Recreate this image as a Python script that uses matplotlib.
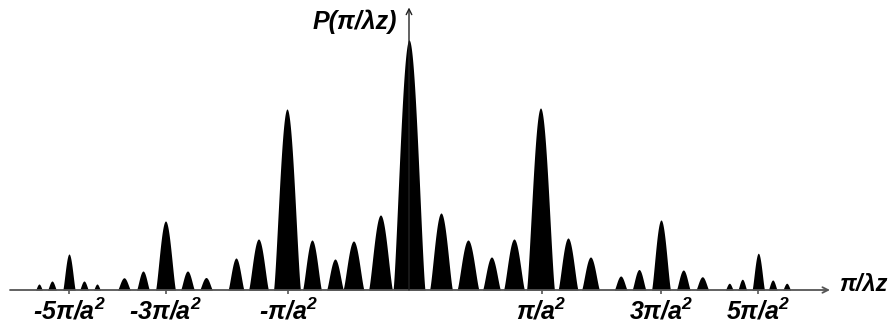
import numpy as np
import matplotlib
matplotlib.use("Agg")
import matplotlib.pyplot as plt

plt.rcParams["font.family"] = ["Liberation Sans", "DejaVu Sans"]
plt.rcParams["mathtext.fontset"] = "custom"
plt.rcParams["mathtext.rm"] = "Liberation Sans:bold:italic"
plt.rcParams["mathtext.it"] = "Liberation Sans:bold:italic"

# Spatial-frequency position of each diffraction peak (axis origin at 0)
peak_pos = [-370, -357, -340, -325, -312, -285, -266, -243.5, -221.5, -203,
            -173, -150.5, -122, -97, -74, -55.5, -28.5, 0, 32, 59,
            82.5, 105, 131.5, 159, 181.5, 211.7, 230, 252, 274.3, 293.3,
            320.3, 333.3, 349.3, 363.7, 377.7]
# Relative intensity (central order = 1)
peak_int = [0.024, 0.036, 0.144, 0.036, 0.024, 0.049, 0.076, 0.276, 0.076, 0.050,
            0.128, 0.204, 0.724, 0.200, 0.124, 0.196, 0.300, 1.000, 0.308, 0.200,
            0.132, 0.204, 0.728, 0.208, 0.132, 0.056, 0.082, 0.280, 0.080, 0.053,
            0.027, 0.043, 0.147, 0.040, 0.027]
# Base width of each peak
peak_width = [7, 9, 12.5, 9, 7, 13, 13, 20, 14, 13,
              16, 20, 27, 19, 17, 21, 24, 32, 23, 22,
              18, 21, 28, 20, 18, 13, 14, 19, 14, 13,
              8, 9, 12.5, 9, 8]

tick_pos = [-340, -243.5, -121, 132.5, 252, 349.3]
tick_labels = ["-5\u03c0/a$^2$", "-3\u03c0/a$^2$", "-\u03c0/a$^2$",
               "\u03c0/a$^2$", "3\u03c0/a$^2$", "5\u03c0/a$^2$"]

# Intensity profile: rounded cosine lobes
x = np.linspace(-400, 430, 20000)
profile = np.zeros_like(x)
for c, h, w in zip(peak_pos, peak_int, peak_width):
    u = (x - c) / (w / 2.0)
    lobe = np.where(np.abs(u) < 1, np.cos(np.pi * np.clip(u, -1, 1) / 2), 0.0)
    profile = np.maximum(profile, h * lobe ** 1.3)

fig = plt.figure(figsize=(8.92, 3.26), dpi=100)
ax = fig.add_axes([0, 0, 1, 1])
ax.set_xlim(-409, 483)
ax.set_ylim(-0.144, 1.16)
ax.axis("off")

ax.fill_between(x, 0, profile, color="black", lw=0)

axis_col = "#555555"
ax.annotate("", xy=(421, 0), xytext=(-399, 0),
            arrowprops=dict(arrowstyle="->", color=axis_col, lw=1.3,
                            shrinkA=0, shrinkB=0, mutation_scale=10))
ax.annotate("", xy=(0, 1.13), xytext=(0, 0),
            arrowprops=dict(arrowstyle="->", color="#222222", lw=1.0,
                            shrinkA=0, shrinkB=0, mutation_scale=10))

ax.vlines(tick_pos, -0.016, 0, color=axis_col, lw=1.2)

for t, lab in zip(tick_pos, tick_labels):
    ax.text(t, -0.087, lab, ha="center", va="center", fontsize=18,
            fontweight="bold", style="italic")

ax.text(-12, 1.072, "P(\u03c0/\u03bbz)", ha="right", va="center", fontsize=18,
        fontweight="bold", style="italic")
ax.text(430, 0.022, "\u03c0/\u03bbz", ha="left", va="center", fontsize=17,
        fontweight="bold", style="italic")

fig.savefig("out.png", dpi=100)
